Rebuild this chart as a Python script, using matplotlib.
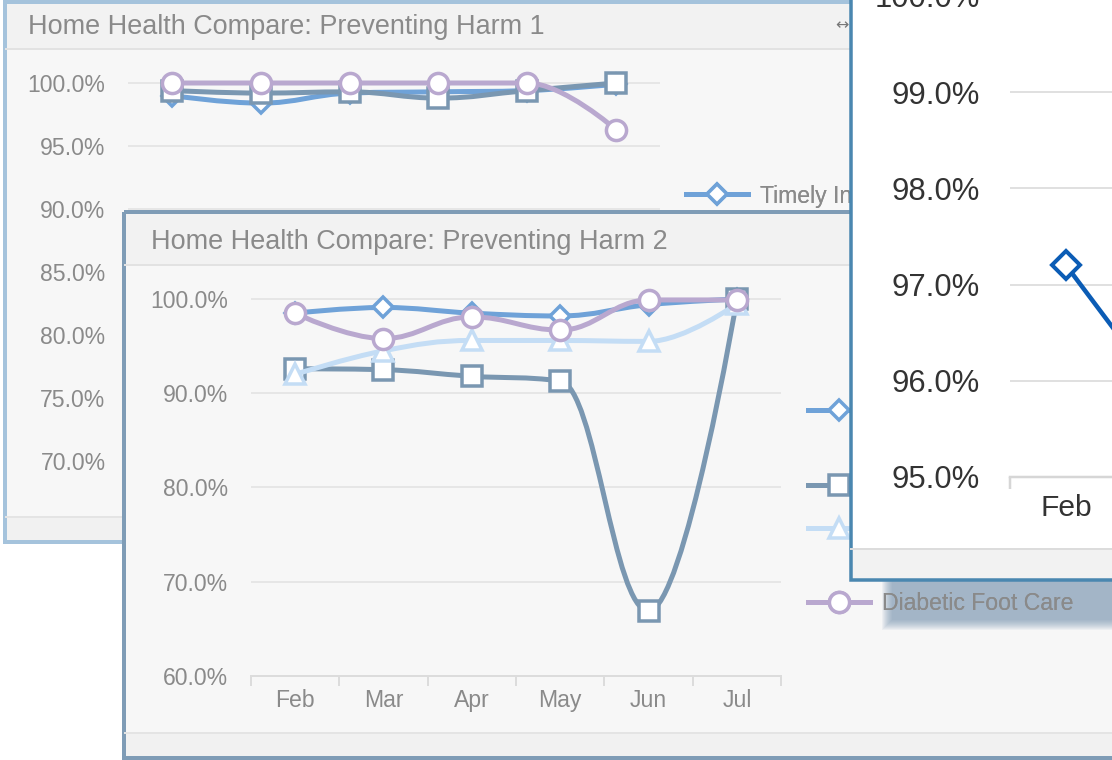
import matplotlib
matplotlib.use("Agg")
import matplotlib.pyplot as plt
from matplotlib.path import Path
from matplotlib.patches import PathPatch, Rectangle
from matplotlib.lines import Line2D
from matplotlib import font_manager

# ---------------- data ----------------
months = ["Feb", "Mar", "Apr", "May", "Jun", "Jul"]

# Panel 1: Preventing Harm 1
p1_timely = [99.0, 98.4, 99.2, 99.3, 99.4, 99.9]
p1_slate = [99.4, 99.2, 99.3, 98.8, 99.4, 100.0]
p1_purple = [100.0, 100.0, 100.0, 100.0, 100.0, 96.3]
p1_ticks = [70, 75, 80, 85, 90, 95, 100]
p1_legend = "Timely Initiation of Care"

# Panel 2: Preventing Harm 2
p2_blue = [98.5, 99.1, 98.5, 98.2, 99.4, 100.0]
p2_slate = [92.6, 92.5, 91.8, 91.3, 66.9, 100.0]
p2_light = [92.0, 94.5, 95.6, 95.6, 95.5, 99.5]
p2_purple = [98.5, 95.8, 98.1, 96.7, 99.9, 99.9]
p2_ticks = [60, 70, 80, 90, 100]
p2_legend_last = "Diabetic Foot Care"

# Panel 3 (front, zoomed)
p3_months = ["Feb", "Mar"]
p3_values = [97.2, 95.65]
p3_ticks = [95, 96, 97, 98, 99, 100]

titles = ["Home Health Compare: Preventing Harm 1",
          "Home Health Compare: Preventing Harm 2"]

# ---------------- styling ----------------
W, H, DPI = 1112, 760, 100
PT = 0.72  # px -> pt

C_BLUE = "#6fa2d8"
C_SLATE = "#7a97b1"
C_LIGHT = "#c4ddf5"
C_PURPLE = "#b9a8cf"
C_DARK = "#0b5cb5"
TXT = "#8a8a8a"

avail = {f.name for f in font_manager.fontManager.ttflist}
if "Liberation Sans Narrow" in avail:
    TICKFONT = ["Liberation Sans Narrow", "Liberation Sans"]
    TICKSIZE = 26 * PT
else:
    TICKFONT = ["Liberation Sans", "DejaVu Sans"]
    TICKSIZE = 23 * PT

plt.rcParams["font.family"] = ["Liberation Sans", "DejaVu Sans"]

fig = plt.figure(figsize=(W / DPI, H / DPI), dpi=DPI, facecolor="white")


def axes_px(x0, y0, x1, y1, z):
    return fig.add_axes([x0 / W, 1 - y1 / H, (x1 - x0) / W, (y1 - y0) / H], zorder=z)


def frame_axes(z):
    a = axes_px(0, 0, W, H, z)
    a.set_xlim(0, W)
    a.set_ylim(H, 0)
    a.axis("off")
    a.patch.set_alpha(0)
    return a


def rect(a, x0, y0, x1, y1, **kw):
    a.add_patch(Rectangle((x0, y0), x1 - x0, y1 - y0, clip_on=False, **kw))


def hline(a, x0, x1, y, color, lw=1.5):
    a.plot([x0, x1], [y, y], color=color, lw=lw * PT, clip_on=False, solid_capstyle="butt")


def spline_path(xs, ys, smoothing=1.5):
    n = len(xs)
    denom = smoothing + 1
    left, right = [None] * n, [None] * n
    for i in range(n):
        x, y = xs[i], ys[i]
        if 0 < i < n - 1:
            lx, ly = xs[i - 1], ys[i - 1]
            nx, ny = xs[i + 1], ys[i + 1]
            lcx = (smoothing * x + lx) / denom
            lcy = (smoothing * y + ly) / denom
            rcx = (smoothing * x + nx) / denom
            rcy = (smoothing * y + ny) / denom
            corr = (rcy - lcy) * (rcx - x) / (rcx - lcx) + y - rcy
            lcy += corr
            rcy += corr
            if lcy > ly and lcy > y:
                lcy = max(ly, y)
                rcy = 2 * y - lcy
            elif lcy < ly and lcy < y:
                lcy = min(ly, y)
                rcy = 2 * y - lcy
            if rcy > ny and rcy > y:
                rcy = max(ny, y)
                lcy = 2 * y - rcy
            elif rcy < ny and rcy < y:
                rcy = min(ny, y)
                lcy = 2 * y - rcy
            left[i], right[i] = (lcx, lcy), (rcx, rcy)
        else:
            left[i] = right[i] = (x, y)
    verts = [(xs[0], ys[0])]
    codes = [Path.MOVETO]
    for i in range(1, n):
        verts += [right[i - 1], left[i], (xs[i], ys[i])]
        codes += [Path.CURVE4] * 3
    return Path(verts, codes)


MK = {"D": 10.5, "s": 14.5, "^": 15.0, "o": 14.5}
LW = 5 * PT
MEW = 3.5 * PT


def series(a, vals, color, marker, z):
    xs = list(range(len(vals)))
    a.add_patch(PathPatch(spline_path(xs, vals), fill=False, edgecolor=color,
                          lw=LW, capstyle="round", joinstyle="round", zorder=z))
    a.plot(xs, vals, ls="none", marker=marker, ms=MK[marker], mfc="white",
           mec=color, mew=MEW, zorder=z + 0.5, clip_on=False)


def handle(color, marker):
    return Line2D([], [], color=color, lw=LW, marker=marker, ms=MK[marker],
                  mfc="white", mec=color, mew=MEW)


def entry(a, h, label, x, y, fs=23 * PT):
    lg = a.legend([h], [label], loc="center left", bbox_to_anchor=(x / W, 1 - y / H),
                  bbox_transform=fig.transFigure, frameon=False, borderpad=0,
                  borderaxespad=0, handlelength=62 / 23, handletextpad=0.5,
                  fontsize=fs, labelcolor=TXT)
    a.add_artist(lg)


def anchored_ylim(y_top, y_bot, ref_px, ref_val, px_per_unit):
    top = ref_val + (ref_px - y_top) / px_per_unit
    bot = ref_val - (y_bot - ref_px) / px_per_unit
    return bot, top


def style_pct_axis(a, ticks, pad_px, color, fam, size, grid_color):
    a.set_yticks(ticks)
    a.set_yticklabels([f"{t:.1f}%" for t in ticks])
    a.tick_params(axis="y", length=0, pad=pad_px * PT, labelcolor=color,
                  labelsize=size, labelfontfamily=fam)
    a.yaxis.grid(True, color=grid_color, lw=2 * PT)
    a.set_axisbelow(True)
    for s in a.spines.values():
        s.set_visible(False)


# ---------------- Panel 1 ----------------
f1 = frame_axes(1)
rect(f1, 5, 2, 900, 542, facecolor="#f7f7f7", edgecolor="none")
rect(f1, 5, 2, 900, 49, facecolor="#f2f2f2", edgecolor="none")
hline(f1, 5, 900, 49, "#e2e2e2", 2)
rect(f1, 5, 517, 900, 542, facecolor="#f1f1f1", edgecolor="none")
hline(f1, 5, 900, 517, "#e4e4e4", 2)
rect(f1, 5, 2, 900, 542, facecolor="none", edgecolor="#a5c3dc", lw=4 * PT)
f1.text(28, 27, titles[0], color=TXT, fontsize=27 * PT, va="center", ha="left")
f1.text(842, 26, "\u2194", color="#777777", fontsize=16 * PT, va="center", ha="center",
        family=["DejaVu Sans"])

a1 = axes_px(127.6, 60, 660.4, 505, 2)
a1.patch.set_alpha(0)
a1.set_xlim(-0.5, len(months) - 0.5)
a1.set_ylim(*anchored_ylim(60, 505, 83, 100, 12.6))
style_pct_axis(a1, p1_ticks, 22, TXT, TICKFONT, TICKSIZE, "#e6e6e6")
a1.set_xticks([])
series(a1, p1_timely, C_BLUE, "D", 3)
series(a1, p1_slate, C_SLATE, "s", 4)
series(a1, p1_purple, C_PURPLE, "o", 5)
entry(a1, handle(C_BLUE, "D"), p1_legend, 686, 196)

# ---------------- Panel 2 ----------------
f2 = frame_axes(3)
rect(f2, 124, 212, 1140, 758, facecolor="#f7f7f7", edgecolor="none")
rect(f2, 124, 212, 1140, 265, facecolor="#f2f2f2", edgecolor="none")
hline(f2, 124, 1140, 265, "#e2e2e2", 2)
rect(f2, 124, 733, 1140, 758, facecolor="#f1f1f1", edgecolor="none")
hline(f2, 124, 1140, 733, "#e4e4e4", 2)
rect(f2, 124, 212, 1140, 758, facecolor="none", edgecolor="#7f9cb6", lw=4 * PT)
f2.text(151, 242, titles[1], color=TXT, fontsize=27 * PT, va="center", ha="left")

# soft shadow of the front panel
sh = frame_axes(3.5)
for grow in range(10, -1, -1):
    rect(sh, 892 - grow, 580, 1140, 620 + grow, facecolor="#6a8aa8", edgecolor="none",
         alpha=0.075)

a2 = axes_px(250.8, 275, 781.2, 676, 4)
a2.patch.set_alpha(0)
a2.set_xlim(-0.5, len(months) - 0.5)
a2.set_ylim(*anchored_ylim(275, 676, 299, 100, 9.425))
style_pct_axis(a2, p2_ticks, 23, TXT, TICKFONT, TICKSIZE, "#e6e6e6")
a2.spines["bottom"].set_visible(True)
a2.spines["bottom"].set_color("#dcdcdc")
a2.spines["bottom"].set_linewidth(2 * PT)
a2.set_xticks([i - 0.5 for i in range(len(months) + 1)])
a2.set_xticklabels([])
a2.set_xticks(range(len(months)), minor=True)
a2.set_xticklabels(months, minor=True)
a2.tick_params(axis="x", which="major", length=10 * PT, width=2 * PT, color="#dcdcdc",
               direction="out")
a2.tick_params(axis="x", which="minor", length=0, pad=13 * PT, labelcolor=TXT,
               labelsize=TICKSIZE, labelfontfamily=TICKFONT)
a2.xaxis.grid(False)
series(a2, p2_blue, C_BLUE, "D", 3)
series(a2, p2_slate, C_SLATE, "s", 4)
series(a2, p2_light, C_LIGHT, "^", 5)
series(a2, p2_purple, C_PURPLE, "o", 6)
entry(a2, handle(C_BLUE, "D"), "", 808, 412)
entry(a2, handle(C_SLATE, "s"), "", 808, 487)
entry(a2, handle(C_LIGHT, "^"), "", 808, 530)
entry(a2, handle(C_PURPLE, "o"), p2_legend_last, 808, 604)

# ---------------- Panel 3 ----------------
f3 = frame_axes(6)
rect(f3, 850, -10, 1140, 580, facecolor="white", edgecolor="none")
rect(f3, 850, 549, 1140, 580, facecolor="#f2f2f2", edgecolor="none")
hline(f3, 850, 1140, 549, "#dcdcdc", 2)
rect(f3, 851, -10, 1140, 580, facecolor="none", edgecolor="#4a87b0", lw=3.5 * PT)

step3 = 112
a3 = axes_px(1010, -30, 1010 + step3 * len(p3_months), 477, 7)
a3.patch.set_alpha(0)
a3.set_xlim(-0.5, len(p3_months) - 0.5)
a3.set_ylim(*anchored_ylim(-30, 477, 477, 95, 96.25))
style_pct_axis(a3, p3_ticks, 30, "#333333", ["Liberation Sans", "DejaVu Sans"],
               31 * PT, "#e0e0e0")
a3.spines["bottom"].set_visible(True)
a3.spines["bottom"].set_color("#d6d6d6")
a3.spines["bottom"].set_linewidth(2.5 * PT)
a3.set_xticks([i - 0.5 for i in range(len(p3_months) + 1)])
a3.set_xticklabels([])
a3.set_xticks(range(len(p3_months)), minor=True)
a3.set_xticklabels(p3_months, minor=True)
a3.tick_params(axis="x", which="major", length=12 * PT, width=2.5 * PT, color="#d6d6d6",
               direction="out")
a3.tick_params(axis="x", which="minor", length=0, pad=17 * PT, labelcolor="#333333",
               labelsize=30 * PT)
a3.plot(range(len(p3_values)), p3_values, color=C_DARK, lw=4.5 * PT, marker="D",
        ms=14, mfc="white", mec=C_DARK, mew=4 * PT, zorder=5)

fig.savefig("out.png", dpi=DPI, facecolor="white")
